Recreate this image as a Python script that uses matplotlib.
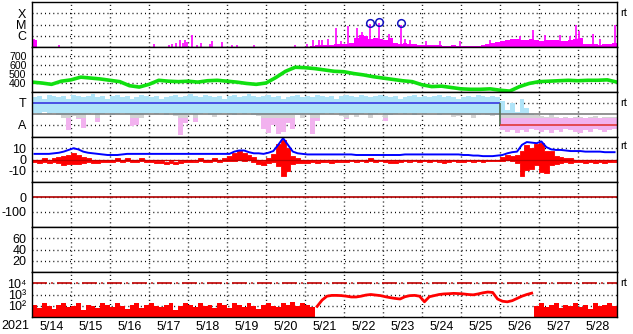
import numpy as np
import matplotlib.pyplot as plt
from matplotlib.ticker import NullLocator

plt.rcParams['font.family'] = ['Liberation Sans Narrow', 'Liberation Sans', 'DejaVu Sans']

# ---- data (3-hourly bins from 2021-05-14 00UT, days since then) ----
day_labels = ['5/14', '5/15', '5/16', '5/17', '5/18', '5/19', '5/20', '5/21',
              '5/22', '5/23', '5/24', '5/25', '5/26', '5/27', '5/28']
t3 = np.arange(120) / 8.0
t6 = np.arange(61) / 4.0

# X-ray background, log10 W/m2
xray_bg = [-6.4, -7.3, -7.3, -7.3, -7.3, -7.3, -7.3, -7.3,
           -7.3, -7.3, -7.3, -7.3, -7.3, -7.3, -7.3, -7.3,
           -7.3, -7.3, -7.3, -7.3, -7.3, -7.3, -7.3, -7.3,
           -7.3, -7.3, -7.3, -7.3, -7.3, -7.3, -7.3, -7.3,
           -7.3, -7.3, -7.3, -7.3, -7.3, -7.3, -7.3, -7.3,
           -7.3, -7.3, -7.3, -7.3, -7.3, -7.3, -7.3, -7.3,
           -7.3, -7.3, -7.3, -7.3, -7.3, -7.3, -7.3, -7.3,
           -7.0, -6.9, -6.85, -6.8, -6.85, -6.8, -6.75, -6.7,
           -6.7, -6.6, -6.2, -5.9, -6.0, -6.3, -6.2, -6.3,
           -6.4, -6.2, -6.6, -6.7, -6.6, -6.7, -6.7, -6.8,
           -6.85, -6.8, -6.85, -6.8, -6.9, -6.9, -6.85, -6.9,
           -6.95, -6.95, -6.9, -6.9, -6.85, -6.7, -6.6, -6.55,
           -6.45, -6.4, -6.3, -6.3, -6.4, -6.35, -6.3, -6.4,
           -6.45, -6.4, -6.35, -6.4, -6.5, -6.45, -6.4, -6.3,
           -6.2, -6.7, -6.75, -6.75, -6.8, -6.75, -6.7, -6.6]
spike_t = [0.05, 0.69, 3.13, 3.51, 3.59, 3.69, 3.79, 3.87, 3.92, 3.97, 4.10, 4.23,
           4.33, 4.56, 4.62, 4.87, 5.13, 5.26, 5.69, 6.74, 7.05, 7.21, 7.36, 7.44,
           7.59, 7.79, 7.92, 8.10, 8.33, 8.46, 8.67, 8.90, 9.15, 9.46, 9.56, 9.69,
           10.10, 10.46, 10.97, 11.74, 12.51, 12.85, 13.15, 13.54, 13.79, 13.95,
           14.03, 14.38, 14.56, 14.95]
spike_v = [-6.3, -6.8, -6.75, -6.8, -6.7, -6.65, -6.35, -6.6, -6.4, -6.55, -5.95, -6.85,
           -6.6, -6.7, -6.5, -6.55, -6.8, -6.8, -6.85, -6.85, -6.75, -6.4, -6.35, -6.4,
           -6.3, -5.3, -6.5, -5.15, -5.3, -5.65, -4.96, -4.85, -5.85, -5.0, -6.25, -6.4,
           -6.5, -6.5, -6.5, -6.35, -6.0, -5.5, -5.9, -5.95, -6.0, -5.0,
           -5.6, -5.8, -6.3, -5.0]
flare_t = [8.67, 8.90, 9.46]
flare_v = [-4.96, -4.85, -5.0]

# solar wind speed km/s, 6-hourly
sw_speed = [410, 400, 385, 420, 435, 465, 455, 445, 430, 415, 370, 355, 385,
            430, 420, 415, 420, 410, 425, 430, 420, 410, 395, 385, 400,
            460, 530, 575, 570, 560, 545, 530, 525, 505, 490, 470, 455,
            440, 425, 415, 380, 360, 365, 350, 335, 330, 330, 335, 320,
            310, 360, 395, 415, 420, 425, 430, 425, 430, 430, 435, 410]

# IMF sector scatter envelope (T = 3, A = 1)
ta_hi = [3.5, 3.6, 3.4, 3.7, 3.6, 3.5, 3.6, 3.4, 3.7, 3.6, 3.5, 3.6, 3.8, 3.5, 3.6, 3.4,
         3.6, 3.7, 3.5, 3.6, 3.4, 3.5, 3.7, 3.6, 3.5, 3.6, 3.4, 3.5, 3.6, 3.7, 3.5, 3.6,
         3.8, 3.6, 3.5, 3.7, 3.6, 3.5, 3.6, 3.4, 3.6, 3.7, 3.5, 3.6, 3.8, 3.6, 3.5, 3.6,
         3.7, 3.5, 3.6, 3.4, 3.5, 3.6, 3.7, 3.5, 3.6, 3.5, 3.7, 3.6, 3.5, 3.6, 3.4, 3.6,
         3.7, 3.6, 3.5, 3.7, 3.6, 3.5, 3.6, 3.7, 3.6, 3.5, 3.6, 3.4, 3.5, 3.6, 3.7, 3.5,
         3.6, 3.5, 3.6, 3.7, 3.5, 3.6, 3.5, 3.4, 3.5, 3.6, 3.5, 3.7, 3.6, 3.5, 3.6, 3.5,
         3.2, 2.4, 3.0, 2.2, 3.4, 2.5, 2.0, 1.9, 1.8, 1.7, 2.0, 1.7, 1.6, 1.7, 1.6, 1.7,
         1.7, 1.6, 1.7, 1.8, 1.6, 1.7, 1.7, 1.7]
ta_lo = [2.1, 2.0, 2.2, 2.0, 2.1, 1.9, 1.6, 0.5, 1.8, 1.5, 0.7, 2.0, 2.1, 1.3, 2.0, 2.1,
         1.9, 2.0, 2.1, 2.0, 0.9, 1.0, 1.6, 2.0, 2.1, 2.0, 2.1, 1.9, 2.1, 1.8, 0.1, 1.2,
         2.0, 1.3, 2.0, 2.1, 1.9, 1.7, 2.0, 2.1, 2.0, 1.9, 2.1, 2.0, 2.1, 1.9, 1.8, 0.6,
         0.3, 1.0, 0.2, 0.4, 1.2, 0.6, 1.9, 1.6, 2.0, 0.2, 1.4, 2.0, 2.1, 2.0, 2.1, 1.8,
         1.5, 2.0, 1.7, 2.0, 2.1, 1.6, 2.0, 2.1, 1.4, 1.9, 2.0, 2.1, 2.0, 2.1, 1.9, 2.1,
         2.0, 2.1, 2.1, 1.9, 2.0, 2.0, 1.7, 1.8, 1.9, 1.9, 1.6, 1.9, 2.0, 1.9, 1.8, 1.9,
         0.5, 0.4, 0.5, 0.3, 0.5, 0.4, 0.6, 0.5, 0.4, 0.5, 0.3, 0.5, 0.4, 0.6, 0.5, 0.4,
         0.3, 0.5, 0.4, 0.6, 0.5, 0.4, 0.5, 0.6]
sector_change = 12.0

# IMF Bt and Bz envelope, nT
bt = [5, 5, 5, 5, 5.5, 6, 7, 8.5, 10, 9, 7, 6, 5.5, 5, 4.5, 4,
      4, 4, 4.5, 5, 5, 5, 5, 5, 5, 5, 5, 5, 5, 5, 5, 5,
      5, 5, 5, 5, 5, 5, 5, 5, 5, 7, 8, 8, 6.5, 5.5, 5.5, 5,
      6, 7.5, 13, 19, 13, 7, 5.5, 5, 4.5, 4.5, 4.5, 4.5, 4.5, 4.5, 4.5, 4.5,
      4.5, 4.5, 4, 4, 4, 4, 4, 4, 4, 4, 4, 4, 4.5, 4.5, 4.5, 4.5,
      4.5, 4.5, 4.5, 4.5, 4.5, 4.5, 4.5, 4.5, 4, 4, 3.5, 3.5, 3, 3, 3, 3.5,
      4, 5.5, 6.5, 7, 13, 15.5, 15, 14.5, 16, 11, 9, 8.5, 8.5, 8, 7.5, 7.5,
      7.5, 7, 7, 7, 7, 6.5, 6.5, 6.5]
bz_lo = [-2, -3, -2, -3, -2, -3, -5, -4, -4, -4, -3, -2, -3, -3, -2, -2,
         -2, -1, -2, -1, -2, -2, -1, -2, -2, -3, -3, -4, -3, -4, -3, -2,
         -2, -2, -1, -2, -2, -1, -2, -1, -1, -1, 0, -1, 0, -2, -4, -5,
         -3, -2, -6, -15, -10, -4, -3, -3, -3, -2, -3, -2, -2, -3, -2, -2,
         -2, -1, -2, -1, -2, -1, -2, -1, -2, -3, -3, -2, -1, -2, -1, -2,
         -1, -2, -1, -2, -3, -2, -1, -2, -2, -1, -2, -1, -2, -1, -1, -1,
         -1, 0, -1, -3, -15, -9, -8, -5, -11, -12, -5, -4, -3, -2, -3, -2,
         -2, -3, -2, -3, -2, -3, -2, -2]
bz_hi = [0, 0, 1, -1, 1, 2, 3, 4, 6, 4, 2, 1, 0, 0, 0, 0,
         0, 1, 0, 1, 0, 0, 1, 0, 0, -1, -1, -2, -1, -2, -1, 0,
         0, -1, 1, 0, 0, 1, 0, 1, 3, 6, 8, 6, 4, 2, 0, -1,
         1, 5, 14, 17, 10, 3, 1, 0, 0, 0, -1, 0, -1, -1, 0, -1,
         0, 0, -1, 0, 0, 1, 0, 0, 0, -1, -1, 0, 0, -1, 0, 0,
         0, 0, 0, -1, -1, 0, 0, -1, 0, 0, -1, 0, 0, 0, 0, 0,
         2, 4, 3, 4, 8, 13, 10, 14, 15, 8, 8, 3, 2, 1, 1, 0,
         0, -1, 0, -1, 0, -1, 0, -1]

# >2 MeV electron flux, log10
e_flux = [2.1, 1.8, 2.2, 2.0, 1.7, 2.1, 2.2, 1.9, 2.0, 2.2, 1.6, 2.1, 2.0, 1.8, 2.2, 2.1,
          1.9, 2.2, 2.0, 1.7, 2.1, 2.2, 1.8, 2.1, 2.2, 2.0, 1.9, 2.1, 2.2, 1.6, 2.0, 2.2,
          2.1, 1.9, 2.2, 2.0, 2.1, 1.8, 2.2, 2.1, 1.8, 2.2, 2.1, 1.9, 2.2, 2.0, 1.7, 2.1,
          2.2, 2.0, 1.9, 2.2, 2.1, 2.3, 2.0, 2.2, 2.1, 1.9, 1.95, 2.5, 2.85, 2.92, 2.92, 2.9,
          2.85, 2.78, 2.78, 2.85, 2.95, 3.0, 2.95, 2.9, 2.8, 2.72, 2.65, 2.6, 2.8, 2.9, 2.92, 2.85,
          2.35, 2.8, 2.9, 3.0, 3.05, 3.07, 3.1, 3.08, 3.05, 3.0, 2.97, 3.05, 3.15, 3.22, 3.18, 2.6,
          2.4, 2.35, 2.45, 2.65, 2.85, 3.0, 3.12, 2.0, 2.2, 1.9, 2.1, 2.2, 1.8, 2.1, 2.0, 2.2,
          1.9, 2.1, 1.7, 2.2, 2.0, 2.1, 2.2, 2.0]
rt_period = (7.25, 12.875)


def ext(v):
    # repeat the last bin so step fills reach the right edge
    v = np.asarray(v, dtype=float)
    return np.append(v, v[-1])


te = np.append(t3, 15.0)

fig = plt.figure(figsize=(6.33, 3.34), dpi=100)
axes = []
for i in range(7):
    top = 2 + 45 * i
    ax = fig.add_axes([32 / 633, 1 - (top + 45) / 334, 585 / 633, 45 / 334])
    axes.append(ax)


def style(ax, yticks, ylabels, size=9):
    ax.set_xlim(0, 15)
    ax.set_xticks(np.arange(1, 15))
    ax.set_xticklabels([])
    ax.set_yticks(yticks)
    ax.set_yticklabels(ylabels)
    ax.yaxis.set_minor_locator(NullLocator())
    ax.tick_params(length=0, pad=4, labelsize=size)
    ax.set_axisbelow(True)
    ax.grid(True, color='black', ls=(0, (0.7, 2.3)), lw=1.0)
    for s in ax.spines.values():
        s.set_linewidth(1.0)


# X-ray
ax = axes[0]
ax.set_yscale('log')
ax.set_ylim(1e-7, 1e-3)
ax.fill_between(te, 1e-8, 10 ** ext(xray_bg), step='post', color='#ff00ff', lw=0)
ax.vlines(spike_t, 1e-8, 10 ** np.array(spike_v), color='#ff00ff', lw=1.2)
ax.plot(flare_t, 10 ** (np.array(flare_v) + 0.1), 'o', mfc='none', mec='#1010c0', ms=5.5, mew=1.1)
style(ax, [1e-6, 1e-5, 1e-4], ['C', 'M', 'X'])

# solar wind speed
ax = axes[1]
ax.set_ylim(300, 800)
ax.plot(t6, sw_speed, color='#10e010', lw=2.6)
style(ax, [400, 500, 600, 700], ['400', '500', '600', '700'], size=7.6)

# IMF sector
ax = axes[2]
ax.set_ylim(-0.1, 4.0)
hi = ext(ta_hi)
lo = ext(ta_lo)
ax.fill_between(te, np.maximum(lo, 1.95), np.maximum(hi, 1.95), step='post', color='#b0e4f8', lw=0)
ax.fill_between(te, np.clip(lo, 1.65, 1.95), np.clip(hi, 1.65, 1.95), step='post', color='#d4d4d4', lw=0)
ax.fill_between(te, np.minimum(lo, 1.65), np.minimum(hi, 1.65), step='post', color='#f2b2ef', lw=0)
ax.axhline(2.0, color='#808080', lw=1.2)
ax.hlines(3, 0, sector_change, color='#3838e0', lw=1.2)
ax.vlines(sector_change, 1, 3, color='#507050', lw=1.2)
ax.hlines(1, sector_change, 15, color='#e03838', lw=1.2)
style(ax, [1, 3], ['A', 'T'])

# IMF Bt / Bz
ax = axes[3]
ax.set_ylim(-20, 20)
ax.plot(t3 + 0.0625, bt, color='#0000ff', lw=1.4)
ax.fill_between(te, ext(bz_lo), ext(bz_hi), step='post', color='#ff0000', lw=0.6, edgecolor='#ff0000')
ax.axhline(0, color='#c00000', lw=0.9)
style(ax, [-10, 0, 10], ['-10', '0', '10'])

# Dst
ax = axes[4]
ax.set_ylim(-200, 100)
ax.axhline(0, color='#b00000', lw=1.2)
style(ax, [-100, 0], ['-100', '0'])

# Kp-like index panel
ax = axes[5]
ax.set_ylim(0, 80)
style(ax, [20, 40, 60], ['20', '40', '60'])

# electron flux
ax = axes[6]
ax.set_yscale('log')
ax.set_ylim(10, 1e5)
ef = ext(e_flux)
in_rt = (te >= rt_period[0]) & (te < rt_period[1])
bars = np.where(in_rt, 0.0, ef)
ax.fill_between(te, 1, 10 ** bars, step='post', color='#ff0000', lw=0)
ax.plot(t3[in_rt[:-1]] + 0.0625, 10 ** np.array(e_flux)[in_rt[:-1]], color='#ff0000', lw=2.0)
ax.axhline(1e4, color='#c00000', lw=1.2, ls=(0, (9, 2.5, 1, 2.5)))
style(ax, [1e2, 1e3, 1e4], ['10²', '10³', '10⁴'])
ax.set_xticks(np.arange(0.5, 15), minor=True)
ax.set_xticklabels(day_labels, minor=True)
ax.tick_params(which='minor', length=0, pad=3, labelsize=9)

for ax, yy in [(axes[0], 0.76), (axes[2], 0.76), (axes[3], 0.8), (axes[6], 0.76)]:
    ax.text(1.006, yy, 'rt', transform=ax.transAxes, fontsize=8, va='center', ha='left')

fig.text(15 / 633, 1 - 326 / 334, '2021', ha='center', va='center', fontsize=9)

fig.savefig('out.png', dpi=100)
